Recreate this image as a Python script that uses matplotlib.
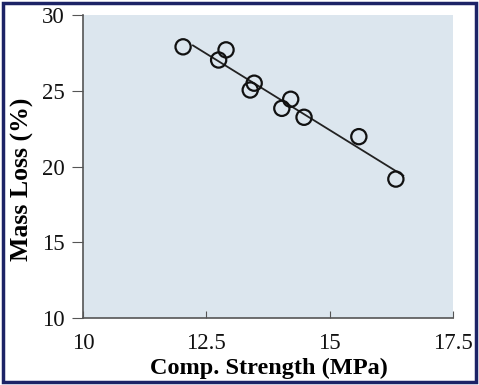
import numpy as np
import matplotlib.pyplot as plt
from matplotlib.patches import Rectangle

# compressive strength (MPa) vs mass loss (%)
resistencia = [12.03, 12.75, 12.90, 13.39, 13.47, 14.03, 14.21, 14.48, 15.59, 16.34]
perda_massa = [27.9, 27.03, 27.7, 25.05, 25.5, 23.84, 24.44, 23.25, 21.97, 19.17]

x_ticks = [10, 12.5, 15, 17.5]
x_tick_labels = ['10', '12.5', '15', '17.5']
y_ticks = [10, 15, 20, 25, 30]

plt.rcParams['font.family'] = ['Liberation Serif', 'DejaVu Serif']

fig = plt.figure(figsize=(4.79, 3.85), dpi=100)
ax = fig.add_axes([0.173, 0.174, 0.773, 0.787])
ax.set_facecolor('#dce6ee')

# trend line (least squares)
coef = np.polyfit(resistencia, perda_massa, 1)
x_linha = np.array([min(resistencia) + 0.2, max(resistencia) + 0.15])
ax.plot(x_linha, np.polyval(coef, x_linha), color='#222222', lw=1.3, zorder=2)

ax.scatter(resistencia, perda_massa, s=120, facecolors='none',
           edgecolors='#111111', linewidths=1.6, zorder=3)

ax.set_xlim(10, 17.5)
ax.set_ylim(10, 30)
ax.set_xticks(x_ticks)
ax.set_xticklabels(x_tick_labels)
ax.set_yticks(y_ticks)
ax.tick_params(axis='x', direction='in', length=5, pad=11, labelsize=16.5, colors='#555555', labelcolor='#111111')
ax.tick_params(axis='y', direction='out', length=8, pad=5, labelsize=16.5, colors='#555555', labelcolor='#111111')
for s in ['top', 'right']:
    ax.spines[s].set_visible(False)
for s in ['left', 'bottom']:
    ax.spines[s].set_color('#555555')
    ax.spines[s].set_linewidth(1.2)

fig.text(0.562, 0.042, 'Comp. Strength (MPa)', ha='center', va='center',
         fontsize=17.5, fontweight='bold')
fig.text(0.046, 0.535, 'Mass Loss (%)', ha='center', va='center',
         rotation=90, fontsize=18.5, fontweight='bold')

# moldura azul em volta da figura
fig.patches.append(Rectangle((0.007, 0.008), 0.987, 0.984, transform=fig.transFigure,
                             fill=False, edgecolor='#1c2366', lw=2.5))

fig.savefig('out.png', dpi=100)
